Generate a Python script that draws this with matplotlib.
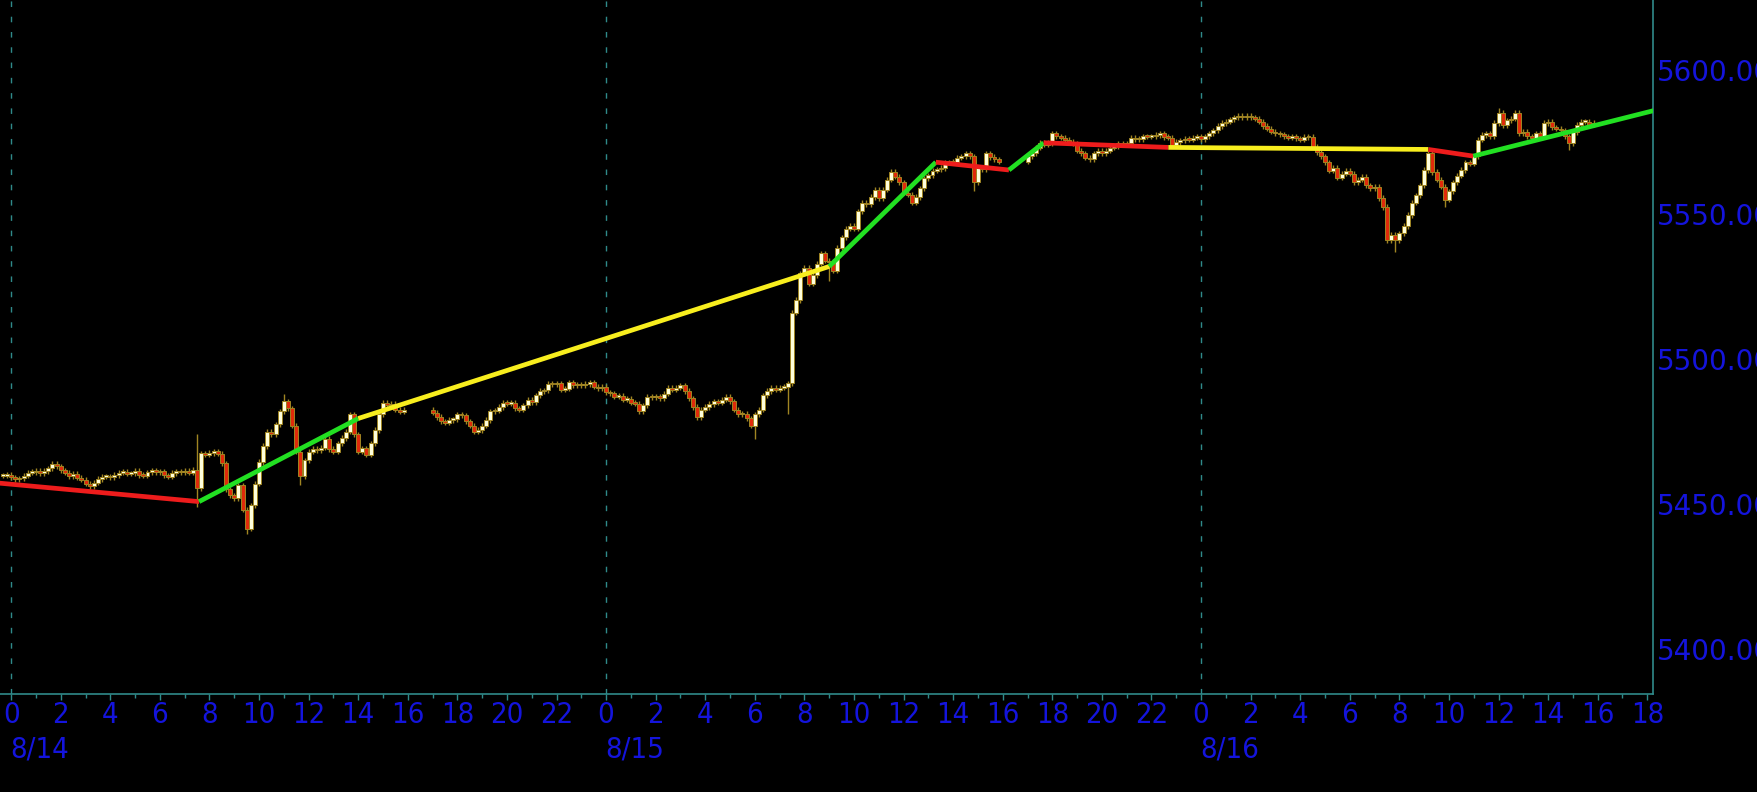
import matplotlib
matplotlib.use('Agg')
import matplotlib.pyplot as plt
import matplotlib.ticker as mticker
import matplotlib.transforms as mtransforms
import numpy as np

# 10-minute bars, closes, one row per hour.
# session start = minutes from 8/14 00:00
sess1_start = -20
sess1_close = [
    5459.8, 5460.0,
    5459.2, 5458.6, 5458.8, 5459.8, 5460.8, 5461.0,
    5461.4, 5460.6, 5461.4, 5462.3, 5463.8, 5463.0,
    5461.6, 5460.8, 5459.6, 5460.4, 5459.0, 5458.4,
    5457.0, 5456.2, 5457.4, 5458.6, 5459.4, 5459.6,
    5459.3, 5460.0, 5460.8, 5461.0, 5460.4, 5460.6,
    5461.4, 5460.0, 5459.8, 5460.9, 5461.6, 5461.0,
    5461.3, 5459.9, 5459.4, 5460.7, 5461.2, 5461.0,
    5461.5, 5460.8, 5461.7, 5455.5, 5467.5, 5467.0,
    5467.6, 5468.2, 5467.4, 5464.0, 5455.0, 5453.0,
    5452.0, 5456.5, 5448.0, 5441.5, 5449.5, 5457.0,
    5464.5, 5470.0, 5475.0, 5474.0, 5477.5, 5482.0,
    5485.5, 5483.0, 5477.0, 5468.0, 5459.5, 5465.0,
    5468.0, 5469.0, 5468.6, 5469.4, 5472.5, 5469.0,
    5468.0, 5471.0, 5472.8, 5475.0, 5481.0, 5474.0,
    5468.0, 5469.2, 5467.0, 5471.0, 5475.5, 5481.0,
    5485.0, 5484.0, 5484.5, 5482.5, 5481.8, 5482.5,
]
sess2_start = 1020
sess2_close = [
    5481.5, 5480.0, 5478.5, 5478.0, 5479.0, 5479.2,
    5481.0, 5480.6, 5478.5, 5477.0, 5475.0, 5475.5,
    5477.0, 5479.0, 5482.0, 5482.2, 5483.5, 5485.0,
    5484.6, 5485.0, 5483.0, 5482.5, 5484.0, 5486.0,
    5485.2, 5487.5, 5489.0, 5489.2, 5491.5, 5491.3,
    5491.6, 5489.5, 5489.8, 5492.0, 5491.0, 5491.2,
    5491.0, 5491.4, 5492.0, 5490.5, 5490.0, 5490.5,
    5488.6, 5488.2, 5487.0, 5487.4, 5486.0, 5486.4,
    5485.0, 5484.6, 5482.0, 5484.0, 5487.0, 5486.8,
    5487.2, 5486.6, 5488.0, 5490.0, 5489.4, 5490.2,
    5491.0, 5489.0, 5486.5, 5483.5, 5480.0, 5482.5,
    5483.5, 5484.5, 5485.5, 5485.0, 5486.0, 5487.0,
    5485.5, 5482.5, 5481.0, 5481.2, 5479.5, 5477.0,
    5481.0, 5482.5, 5487.5, 5489.0, 5490.0, 5489.5,
    5490.2, 5490.4, 5491.7, 5516.0, 5520.4, 5529.7,
    5531.5, 5526.0, 5529.0, 5533.0, 5536.5, 5534.0,
    5533.5, 5530.5, 5538.5, 5542.0, 5545.0, 5546.0,
    5545.0, 5551.0, 5554.0, 5553.5, 5556.0, 5558.5,
    5555.5, 5558.5, 5562.0, 5564.6, 5563.0, 5561.0,
    5557.5, 5556.8, 5554.0, 5556.0, 5559.0, 5562.5,
    5563.5, 5565.0, 5565.5, 5566.0, 5568.0, 5567.8,
    5568.2, 5569.5, 5570.0, 5571.0, 5570.0, 5561.0,
    5566.0, 5565.5, 5571.0, 5569.8, 5569.0, 5568.2,
]
sess3_start = 2460
sess3_close = [
    5570.0, 5571.0, 5573.0, 5574.6, 5574.0, 5574.6,
    5578.0, 5577.0, 5576.5, 5575.7, 5575.0, 5574.5,
    5572.0, 5571.0, 5569.5, 5569.0, 5571.0, 5572.0,
    5571.0, 5572.0, 5573.0, 5573.5, 5574.5, 5574.0,
    5574.5, 5576.4, 5576.0, 5576.0, 5577.0, 5576.8,
    5577.0, 5577.4, 5578.0, 5576.7, 5576.4, 5574.0,
    5575.0, 5575.5, 5576.0, 5575.7, 5576.5, 5577.0,
    5576.0, 5577.0, 5578.0, 5579.0, 5580.5, 5581.5,
    5582.0, 5582.8, 5583.5, 5584.0, 5583.6, 5584.0,
    5583.5, 5583.0, 5582.0, 5580.5, 5579.5, 5578.5,
    5578.0, 5577.6, 5577.0, 5576.4, 5577.0, 5576.2,
    5575.7, 5576.7, 5576.7, 5573.3, 5571.5, 5570.0,
    5568.0, 5565.0, 5566.0, 5562.6, 5564.0, 5565.0,
    5564.0, 5561.0, 5562.0, 5563.0, 5560.0, 5559.0,
    5559.5, 5555.6, 5552.5, 5541.0, 5543.0, 5541.0,
    5543.5, 5546.0, 5549.8, 5554.0, 5556.6, 5560.0,
    5565.3, 5571.0, 5564.6, 5562.0, 5559.5, 5555.0,
    5558.0, 5561.0, 5563.4, 5565.3, 5568.0, 5567.5,
    5570.0, 5575.7, 5577.4, 5578.0, 5577.0, 5581.5,
    5585.0, 5580.8, 5582.5, 5583.0, 5585.0, 5578.0,
    5578.5, 5577.0, 5576.5, 5578.0, 5577.0, 5581.5,
    5582.0, 5580.0, 5579.5, 5579.0, 5577.0, 5574.6,
    5578.4, 5581.0, 5582.0, 5582.0, 5581.0, 5581.5,
]

# bars with long wicks (minute -> price)
wick_high = {450: 5474.0, 660: 5488.0, 3600: 5586.7}
wick_low = {450: 5449.0, 570: 5439.5, 700: 5456.5, 1800: 5472.5, 1880: 5481.0,
            1980: 5527.0, 2330: 5558.0, 3350: 5537.0, 3470: 5552.6, 3770: 5572.2}
wick = 0.9

# trend segments: break points (hours from 8/14 00:00) and colours
seg_t = [-0.5, 7.58, 14.0, 33.0, 37.3, 40.25, 41.65, 46.68, 57.17, 58.98, 66.3]
seg_p = [5457.2, 5450.8, 5479.5, 5532.0, 5568.0, 5565.3, 5574.7, 5573.1, 5572.4, 5570.1, 5585.9]
seg_c = ['#ee1c1c', '#22e022', '#f8ee1e', '#22e022', '#ee1c1c',
         '#22e022', '#ee1c1c', '#f8ee1e', '#ee1c1c', '#22e022']

day_starts = [0, 24, 48]
day_labels = ['8/14', '8/15', '8/16']
yticks = [5400, 5450, 5500, 5550, 5600]

BLUE = '#1414dc'
TEAL = '#2f8a8a'
OLIVE = '#a08522'
UP = '#ffffdc'
DOWN = '#e02a0a'

# build OHLC
t, o, h, l, c = [], [], [], [], []
prev = None
for start, closes in [(sess1_start, sess1_close), (sess2_start, sess2_close),
                      (sess3_start, sess3_close)]:
    for i, cl in enumerate(closes):
        m = start + 10 * i
        op = prev if prev is not None else cl
        t.append(m / 60)
        o.append(op)
        c.append(cl)
        h.append(wick_high.get(m, max(op, cl) + wick))
        l.append(wick_low.get(m, min(op, cl) - wick))
        prev = cl
t, o, h, l, c = map(np.array, (t, o, h, l, c))

fig = plt.figure(figsize=(17.57, 7.92), dpi=100, facecolor='black')
ax = fig.add_axes([0, 0.1242, 0.9408, 0.8758], facecolor='black')

for d in day_starts:
    ax.axvline(d, color=TEAL, lw=1.0, ls=(0, (4, 7)), zorder=0)

ax.vlines(t, l, h, color=OLIVE, lw=1.0, zorder=1)
up = c >= o
bottom = np.minimum(o, c)
height = np.maximum(np.abs(c - o), 0.5)
ax.bar(t, height, width=0.16, bottom=bottom, color=np.where(up, UP, DOWN),
       edgecolor=OLIVE, linewidth=0.7, zorder=2)

for i, col in enumerate(seg_c):
    ax.plot(seg_t[i:i + 2], seg_p[i:i + 2], color=col, lw=3.4,
            solid_capstyle='butt', zorder=3)

ax.set_xlim(-0.45, 66.23)
ax.set_ylim(5384.5, 5624.0)

# x axis: hours
xt = np.arange(0, 67, 2)
ax.set_xticks(xt)
ax.set_xticklabels([str(int(v) % 24) for v in xt], fontfamily='DejaVu Sans',
                   fontstretch='condensed')
ax.xaxis.set_minor_locator(mticker.MultipleLocator(1))
ax.tick_params(axis='x', which='both', colors=TEAL, labelcolor=BLUE,
               direction='out', width=1, labelsize=21, pad=1)
ax.tick_params(axis='x', which='major', length=4)
ax.tick_params(axis='x', which='minor', length=3)

trans = mtransforms.blended_transform_factory(ax.transData, ax.transAxes)
for d, lab in zip(day_starts, day_labels):
    ax.text(d - 0.05, -0.08, lab, transform=trans, ha='left', va='center',
            color=BLUE, fontsize=21, fontfamily='DejaVu Sans',
            fontstretch='condensed', clip_on=False)

# y axis on right
ax.yaxis.tick_right()
ax.set_yticks(yticks)
ax.yaxis.set_major_formatter(mticker.FormatStrFormatter('%.2f'))
ax.tick_params(axis='y', colors=TEAL, labelcolor=BLUE, length=0,
               labelsize=20, pad=3)

for s in ['top', 'left']:
    ax.spines[s].set_visible(False)
for s in ['bottom', 'right']:
    ax.spines[s].set_color(TEAL)
    ax.spines[s].set_linewidth(1.2)

fig.savefig('out.png', dpi=100, facecolor='black')
